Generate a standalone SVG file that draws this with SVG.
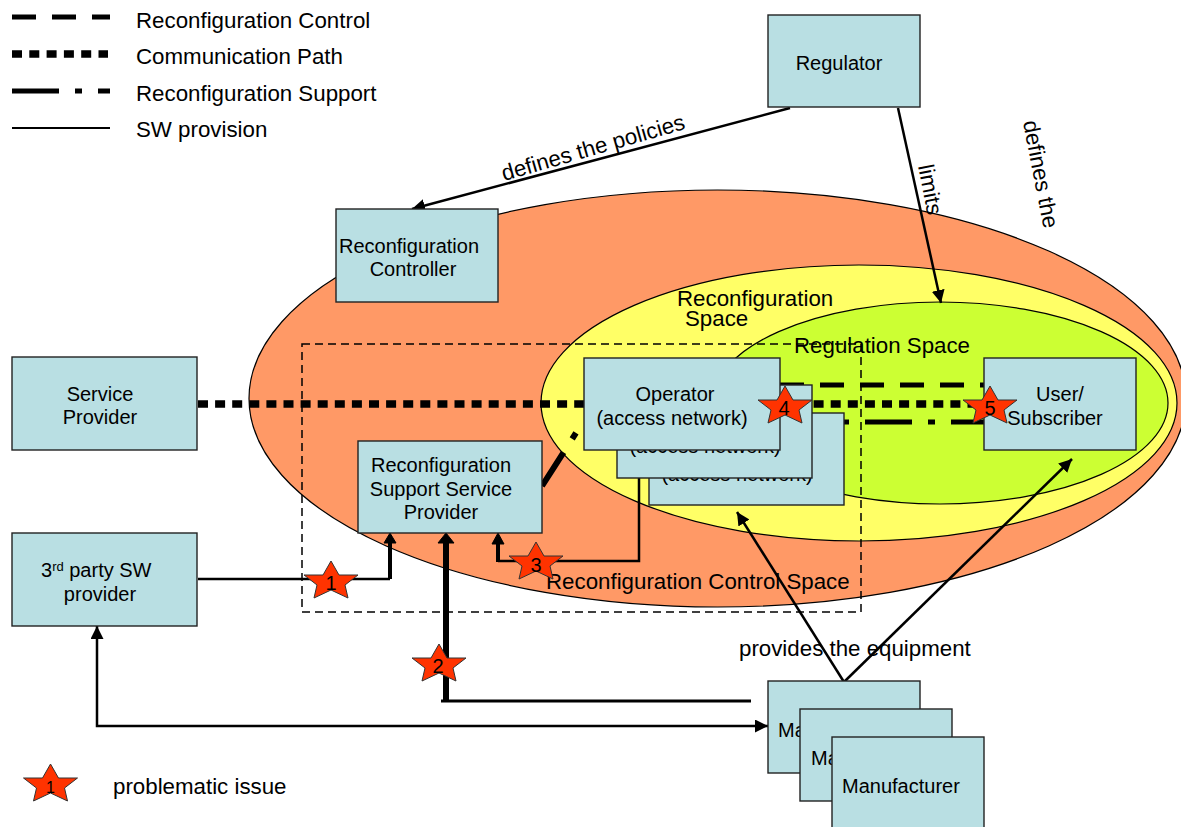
<svg xmlns="http://www.w3.org/2000/svg" xmlns:xlink="http://www.w3.org/1999/xlink" width="1181" height="827" viewBox="0 0 1181 827">
<style>
text{font-family:"Liberation Sans",Arial,sans-serif;font-size:20px;fill:#000}
.m{text-anchor:middle}
.big{font-size:22.3px}
.box{fill:#b9dfe3;stroke:#222;stroke-width:1.4}
.sp{stroke:#000;stroke-width:1.2}
.star{fill:#ff3300;stroke:#333;stroke-width:1}
.ln{fill:none;stroke:#000;stroke-width:2.5}
.ctl{fill:none;stroke:#000;stroke-width:5;stroke-dasharray:24 16}
.com{fill:none;stroke:#000;stroke-width:7.5;stroke-dasharray:10 7.1}
.sup{fill:none;stroke:#000;stroke-width:5;stroke-dasharray:47 16 7 16}
</style>
<defs>
<marker id="a" markerUnits="userSpaceOnUse" markerWidth="16" markerHeight="14" refX="13" refY="6.5" orient="auto-start-reverse"><path d="M0,0L13,6.5L0,13z" fill="#000"/></marker>
<polygon id="s" class="star" points="0,-18 8,-4 27,-4 14,6 17,19 0,11 -17,19 -14,6 -27,-4 -8,-4"/>
</defs>

<g id="spaces">
<ellipse id="control-space" class="sp" cx="717.5" cy="398.5" rx="468.5" ry="208.5" fill="#ff9966"/>
<ellipse id="reconfig-space" class="sp" cx="859" cy="403" rx="318" ry="138" fill="#ffff66"/>
<ellipse id="regulation-space" class="sp" cx="940" cy="403" rx="228" ry="101" fill="#ccff33"/>
<rect id="control-boundary" x="302" y="344" width="559" height="268" fill="none" stroke="#000" stroke-width="1.5" stroke-dasharray="8 5"/>
<text class="big" x="677" y="306">Reconfiguration</text>
<text class="big" x="685" y="326">Space</text>
<text class="big" x="794" y="353">Regulation Space</text>
<text class="big" x="546" y="589">Reconfiguration Control Space</text>
</g>

<g id="legend">
<path class="ctl" d="M12,17H110"/>
<path class="com" style="stroke-dasharray:10 7.3" d="M12,54H108"/>
<path class="sup" d="M12,91H110"/>
<path class="ln" style="stroke-width:2" d="M12,128H110"/>
<text class="big" x="136" y="28">Reconfiguration Control</text>
<text class="big" x="136" y="64">Communication Path</text>
<text class="big" x="136" y="101">Reconfiguration Support</text>
<text class="big" x="136" y="137">SW provision</text>
<use xlink:href="#s" href="#s" x="50.5" y="782"/>
<text class="m" x="50.5" y="793" style="font-size:16px">1</text>
<text class="big" x="113" y="794">problematic issue</text>
</g>

<g id="connectors">
<path class="ctl" d="M780,385H985"/>
<path class="com" d="M198,404H985"/>
<path class="sup" style="stroke-width:6;stroke-dasharray:40 16 7 30" d="M542,486L583,422"/>
<path class="sup" style="stroke-dasharray:7 16 47 16" d="M584,422H985"/>
<path class="ln" marker-end="url(#a)" d="M790,108L412,209"/>
<path class="ln" marker-end="url(#a)" d="M898,108L941,303"/>
<path class="ln" marker-end="url(#a)" d="M844,682L737,512"/>
<path class="ln" marker-end="url(#a)" d="M844,682L1072,459"/>
<path class="ln" d="M198,579H390"/>
<path fill="none" stroke="#000" stroke-width="4" d="M390,579V540"/>
<path d="M384,543L390,533L396,543z" stroke="#000" stroke-width="1"/>
<path fill="none" stroke="#000" stroke-width="6" d="M446,701V540"/>
<path d="M438,543L446,533L454,543z" stroke="#000" stroke-width="1"/>
<path class="ln" style="stroke-width:3" d="M441,701H751"/>
<path class="ln" d="M639,470V561H498"/>
<path fill="none" stroke="#000" stroke-width="4" d="M498,562V540"/>
<path d="M492,544L498,533L504,544z" stroke="#000" stroke-width="1"/>
<path class="ln" marker-start="url(#a)" marker-end="url(#a)" d="M97,626V726H768"/>
<text class="big" transform="translate(504,181) rotate(-16)">defines the policies</text>
<text class="big" transform="translate(918,166) rotate(79)">limits</text>
<text class="big" transform="translate(1023,122) rotate(79)">defines the</text>
<text class="big" x="739" y="656">provides the equipment</text>
</g>

<g id="regulator"><rect class="box" x="768" y="15" width="152" height="92"/><text class="m" x="839" y="70">Regulator</text></g>
<g id="reconfiguration-controller"><rect class="box" x="336" y="209" width="162" height="93"/><text class="m" x="409" y="253">Reconfiguration</text><text class="m" x="413" y="276">Controller</text></g>
<g id="service-provider"><rect class="box" x="12" y="357" width="185" height="93"/><text class="m" x="100" y="401">Service</text><text class="m" x="100" y="424">Provider</text></g>
<g id="support-provider"><rect class="box" x="358" y="441" width="184" height="92"/><text class="m" x="441" y="472">Reconfiguration</text><text class="m" x="441" y="496">Support Service</text><text class="m" x="441" y="519">Provider</text></g>
<g id="third-party"><rect class="box" x="12" y="533" width="185" height="93"/><text x="41" y="577">3<tspan font-size="13" dy="-6">rd</tspan><tspan dy="6"> party SW</tspan></text><text class="m" x="100" y="601">provider</text></g>
<g id="operator-3"><rect class="box" x="649" y="413" width="195" height="92"/><text class="m" x="737" y="456">Operator</text><text class="m" x="737" y="481">(access network)</text></g>
<g id="operator-2"><rect class="box" x="617" y="385" width="195" height="93"/><text class="m" x="705" y="428">Operator</text><text class="m" x="705" y="453">(access network)</text></g>
<g id="operator-1"><rect class="box" x="584" y="358" width="196" height="92"/><text class="m" x="675" y="401">Operator</text><text class="m" x="672" y="425">(access network)</text></g>
<g id="user"><rect class="box" x="984" y="358" width="152" height="92"/><text class="m" x="1060" y="401">User/</text><text class="m" x="1055" y="425">Subscriber</text></g>
<g id="manufacturer-1"><rect class="box" x="768" y="681" width="152" height="92"/><text x="778" y="737">Manufacturer</text></g>
<g id="manufacturer-2"><rect class="box" x="800" y="709" width="152" height="92"/><text x="811" y="765">Manufacturer</text></g>
<g id="manufacturer-3"><rect class="box" x="832" y="737" width="152" height="92"/><text x="842" y="793">Manufacturer</text></g>

<g id="issues">
<g id="issue-1"><use xlink:href="#s" href="#s" x="331" y="579"/><text class="m" x="331" y="590">1</text></g>
<g id="issue-2"><use xlink:href="#s" href="#s" x="439" y="662"/><text class="m" x="438" y="673">2</text></g>
<g id="issue-3"><use xlink:href="#s" href="#s" x="536" y="560"/><text class="m" x="536" y="572">3</text></g>
<g id="issue-4"><use xlink:href="#s" href="#s" x="785" y="404"/><text class="m" x="784" y="415">4</text></g>
<g id="issue-5"><use xlink:href="#s" href="#s" x="990" y="404"/><text class="m" x="990" y="415">5</text></g>
</g>
</svg>
